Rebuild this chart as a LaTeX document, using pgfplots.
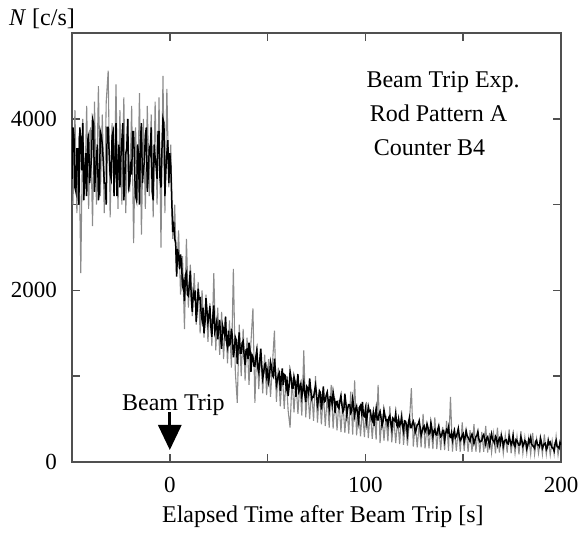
\documentclass[border=0pt]{standalone}
\usepackage{pgfplots}
\pgfplotsset{compat=1.18}
\usepackage{fontspec}
\setmainfont{Liberation Serif}
\usetikzlibrary{arrows.meta}
\definecolor{axgray}{HTML}{505050}
\begin{document}
\begin{tikzpicture}[font=\fontsize{12bp}{14bp}\selectfont]
\begin{axis}[
  scale only axis, width=244.5bp, height=214.5bp,
  xmin=-50, xmax=200, ymin=0, ymax=5000,
  axis line style={axgray, line width=0.9bp},
  tick style={axgray, line width=0.8bp},
  tick align=inside, major tick length=4bp,
  xtick={0,50,100,150,200}, xticklabels={0,,100,,200},
  ytick={0,1000,2000,3000,4000}, yticklabels={0,,2000,,4000},
  scaled ticks=false,
  /pgf/number format/assume math mode=true,
  ticklabel style={font=\fontsize{11.5bp}{13bp}\selectfont},
  yticklabel style={xshift=-4bp},
  xticklabel style={yshift=-4bp},
  xlabel={Elapsed Time after Beam Trip [s]},
  xlabel style={at={(axis description cs:0.513,0)}, anchor=base, yshift=-30bp},
  clip=true,
]
\addplot[black!45, line width=0.55bp] coordinates {
(-49.5,3000)(-48.5,4100)(-47.5,2900)(-46.5,3800)(-45.5,2200)(-44.5,4000)(-43.5,3100)(-42.5,4150)(-41.5,2950)(-40.5,3900)
(-39.5,2750)(-38.5,4200)(-37.5,3000)(-36.5,4380)(-35.5,3100)(-34.5,4050)(-33.5,2900)(-32.5,4200)(-31.5,4560)(-30.5,2850)
(-29.5,3950)(-28.5,3100)(-27.5,4400)(-26.5,2950)(-25.5,4100)(-24.5,3000)(-23.5,4250)(-22.5,2900)(-21.5,4000)(-20.5,3150)
(-19.5,4150)(-18.5,2550)(-17.5,3900)(-16.5,3050)(-15.5,4300)(-14.5,2650)(-13.5,4000)(-12.5,2950)(-11.5,4150)(-10.5,3100)
(-9.5,4050)(-8.5,2850)(-7.5,4200)(-6.5,3000)(-5.5,4250)(-4.5,2500)(-3.5,4500)(-2.5,2900)(-1.5,4350)(-0.5,3200)
(0.5,3700)(1.5,2600)(2.5,3000)(3.5,2200)(4.5,2700)(5.5,1950)(6.5,2400)(7.5,1550)(8.5,2600)(9.5,1800)
(10.5,2300)(11.5,1700)(12.5,2200)(13.5,1600)(14.5,2100)(15.5,1500)(16.5,2000)(17.5,1450)(18.5,1950)(19.5,1400)
(20.5,1850)(21.5,1350)(22.5,2200)(23.5,1300)(24.5,1800)(25.5,1250)(26.5,1750)(27.5,1200)(28.5,1700)(29.5,1150)
(30.5,1650)(31.5,1100)(32.5,2250)(33.5,1050)(34.5,690)(35.5,1600)(36.5,1000)(37.5,1550)(38.5,950)(39.5,1450)
(40.5,900)(41.5,1400)(42.5,1790)(43.5,690)(44.5,1350)(45.5,850)(46.5,1300)(47.5,800)(48.5,1250)(49.5,780)
(50.5,1200)(51.5,760)(52.5,1150)(53.5,1530)(54.5,700)(55.5,1100)(56.5,650)(57.5,1050)(58.5,620)(59.5,1000)
(60.5,600)(61.5,400)(62.5,980)(63.5,580)(64.5,950)(65.5,560)(66.5,920)(67.5,540)(68.5,1300)(69.5,520)
(70.5,880)(71.5,500)(72.5,850)(73.5,480)(74.5,1000)(75.5,460)(76.5,820)(77.5,440)(78.5,800)(79.5,420)
(80.5,780)(81.5,400)(82.5,900)(83.5,390)(84.5,740)(85.5,370)(86.5,720)(87.5,350)(88.5,700)(89.5,340)
(90.5,680)(91.5,330)(92.5,820)(93.5,320)(94.5,950)(95.5,310)(96.5,640)(97.5,300)(98.5,620)(99.5,290)
(100.5,700)(101.5,280)(102.5,600)(103.5,270)(104.5,580)(105.5,260)(106.5,900)(107.5,220)(108.5,560)(109.5,250)
(110.5,540)(111.5,240)(112.5,650)(113.5,230)(114.5,520)(115.5,220)(116.5,500)(117.5,210)(118.5,600)(119.5,200)
(120.5,480)(121.5,190)(122.5,470)(123.5,860)(124.5,180)(125.5,460)(126.5,170)(127.5,450)(128.5,170)(129.5,560)
(130.5,160)(131.5,440)(132.5,160)(133.5,430)(134.5,150)(135.5,520)(136.5,150)(137.5,420)(138.5,140)(139.5,410)
(140.5,140)(141.5,480)(142.5,130)(143.5,760)(144.5,120)(145.5,400)(146.5,130)(147.5,390)(148.5,120)(149.5,460)
(150.5,130)(151.5,380)(152.5,120)(153.5,370)(154.5,120)(155.5,440)(156.5,120)(157.5,360)(158.5,110)(159.5,350)
(160.5,120)(161.5,420)(162.5,110)(163.5,340)(164.5,110)(165.5,330)(166.5,100)(167.5,400)(168.5,110)(169.5,320)
(170.5,100)(171.5,310)(172.5,110)(173.5,380)(174.5,100)(175.5,300)(176.5,100)(177.5,300)(178.5,90)(179.5,360)
(180.5,100)(181.5,290)(182.5,100)(183.5,280)(184.5,90)(185.5,340)(186.5,90)(187.5,270)(188.5,100)(189.5,270)
(190.5,90)(191.5,320)(192.5,90)(193.5,260)(194.5,80)(195.5,250)(196.5,90)(197.5,300)(198.5,80)(199.5,240)
};
\addplot[black, line width=0.75bp] coordinates {
(-50,3300)(-49.5,3900)(-49,3800)(-48.5,3200)(-48,3150)(-47.5,3650)(-47,3650)(-46.5,3000)(-46,3900)(-45.5,3750)(-45,3400)(-44.5,3950)(-44,3050)(-43.5,3300)(-43,3600)(-42.5,3100)(-42,3750)(-41.5,3800)(-41,3250)(-40.5,3400)
(-40,3550)(-39.5,4000)(-39,3950)(-38.5,3150)(-38,3350)(-37.5,3550)(-37,3700)(-36.5,3050)(-36,3150)(-35.5,3850)(-35,3800)(-34.5,3700)(-34,3500)(-33.5,3250)(-33,3250)(-32.5,3000)(-32,3900)(-31.5,3900)(-31,3600)(-30.5,3350)
(-30,3300)(-29.5,3800)(-29,3850)(-28.5,3100)(-28,3450)(-27.5,3950)(-27,3100)(-26.5,3450)(-26,3700)(-25.5,3200)(-25,3550)(-24.5,3750)(-24,3950)(-23.5,3050)(-23,3300)(-22.5,3600)(-22,3650)(-21.5,4000)(-21,3200)(-20.5,3250)
(-20,3500)(-19.5,3350)(-19,3850)(-18.5,3850)(-18,3400)(-17.5,3100)(-17,3050)(-16.5,3700)(-16,3600)(-15.5,3000)(-15,3750)(-14.5,3950)(-14,3250)(-13.5,3400)(-13,3500)(-12.5,3800)(-12,3900)(-11.5,3150)(-11,3350)(-10.5,3650)
(-10,3600)(-9.5,3900)(-9,3150)(-8.5,3050)(-8,3700)(-7.5,3550)(-7,3450)(-6.5,3300)(-6,3850)(-5.5,3850)(-5,3300)(-4.5,3200)(-4,3650)(-3.5,4000)(-3,3950)(-2.5,3100)(-2,3400)(-1.5,3600)(-1,3750)(-0.5,3250)
(0,3600)(0.5,3450)(1,3050)(1.5,2680)(2,2800)(2.5,2600)(3,2550)(3.5,2160)(4,2480)(4.5,2400)(5,2250)(5.5,2420)(6,2320)(6.5,2055)(7,2100)(7.5,1875)(8,2180)(8.5,2210)(9,1950)(9.5,1935)
(10,2080)(10.5,2230)(11,1900)(11.5,1750)(12,1980)(12.5,1925)(13,2000)(13.5,1635)(14,1780)(14.5,2020)(15,1900)(15.5,1910)(16,1740)(16.5,1655)(17,1800)(17.5,1500)(18,1630)(18.5,1910)(19,1770)(19.5,1620)
(20,1700)(20.5,1815)(21,1580)(21.5,1460)(22,1690)(22.5,1825)(23,1520)(23.5,1570)(24,1640)(24.5,1430)(25,1560)(25.5,1655)(26,1450)(26.5,1320)(27,1590)(27.5,1540)(28,1480)(28.5,1690)(29,1400)(29.5,1340)
(30,1530)(30.5,1365)(31,1380)(31.5,1555)(32,1460)(32.5,1220)(33,1300)(33.5,1455)(34,1420)(34.5,1140)(35,1360)(35.5,1510)(36,1270)(36.5,1270)(37,1390)(37.5,1410)(38,1240)(38.5,1130)(39,1310)(39.5,1315)
(40,1200)(40.5,1390)(41,1300)(41.5,1050)(42,1250)(42.5,1225)(43,1120)(43.5,1115)(44,1230)(44.5,1305)(45,1100)(45.5,1045)(46,1190)(46.5,1320)(47,1130)(47.5,975)(48,1040)(48.5,1140)(49,1150)(49.5,1000)
(50,1060)(50.5,935)(51,1000)(51.5,1165)(52,1110)(52.5,1010)(53,990)(53.5,1205)(54,1060)(54.5,895)(55,950)(55.5,1015)(56,1040)(56.5,830)(57,980)(57.5,1090)(58,900)(58.5,1020)(59,1010)(59.5,860)
(60,930)(60.5,770)(61,880)(61.5,1055)(62,980)(62.5,860)(63,860)(63.5,995)(64,940)(64.5,760)(65,900)(65.5,1025)(66,820)(66.5,855)(67,910)(67.5,765)(68,840)(68.5,930)(69,790)(69.5,700)
(70,880)(70.5,860)(71,800)(71.5,975)(72,850)(72.5,735)(73,760)(73.5,755)(74,830)(74.5,895)(75,790)(75.5,660)(76,720)(76.5,830)(77,810)(77.5,610)(78,740)(78.5,880)(79,700)(79.5,710)
(80,780)(80.5,815)(81,710)(81.5,620)(82,760)(82.5,755)(83,670)(83.5,815)(84,740)(84.5,570)(85,700)(85.5,705)(86,640)(86.5,625)(87,720)(87.5,775)(88,660)(88.5,585)(89,610)(89.5,795)
(90,690)(90.5,545)(91,630)(91.5,670)(92,670)(92.5,570)(93,590)(93.5,735)(94,650)(94.5,540)(95,620)(95.5,650)(96,560)(96.5,475)(97,640)(97.5,660)(98,580)(98.5,700)(99,540)(99.5,530)
(100,610)(100.5,460)(101,550)(101.5,645)(102,590)(102.5,600)(103,520)(103.5,485)(104,570)(104.5,420)(105,540)(105.5,625)(106,490)(106.5,490)(107,560)(107.5,590)(108,510)(108.5,420)(109,470)(109.5,605)
(110,540)(110.5,485)(111,490)(111.5,425)(112,520)(112.5,540)(113,450)(113.5,380)(114,510)(114.5,495)(115,480)(115.5,570)(116,430)(116.5,410)(117,500)(117.5,425)(118,450)(118.5,520)(119,420)(119.5,360)
(120,480)(120.5,475)(121,430)(121.5,330)(122,460)(122.5,515)(123,400)(123.5,400)(124,450)(124.5,475)(125,420)(125.5,345)(126,380)(126.5,435)(127,440)(127.5,480)(128,400)(128.5,310)(129,360)(129.5,400)
(130,420)(130.5,350)(131,380)(131.5,445)(132,400)(132.5,325)(133,340)(133.5,460)(134,390)(134.5,295)(135,360)(135.5,380)(136,320)(136.5,315)(137,380)(137.5,420)(138,340)(138.5,295)(139,310)(139.5,370)
(140,370)(140.5,255)(141,330)(141.5,375)(142,350)(142.5,405)(143,300)(143.5,290)(144,340)(144.5,255)(145,320)(145.5,365)(146,280)(146.5,300)(147,340)(147.5,390)(148,300)(148.5,250)(149,270)(149.5,310)
(150,330)(150.5,235)(151,290)(151.5,365)(152,310)(152.5,285)(153,260)(153.5,240)(154,300)(154.5,325)(155,280)(155.5,215)(156,250)(156.5,295)(157,310)(157.5,355)(158,270)(158.5,235)(159,240)(159.5,250)
(160,300)(160.5,320)(161,260)(161.5,205)(162,280)(162.5,295)(163,240)(163.5,190)(164,280)(164.5,330)(165,260)(165.5,245)(166,220)(166.5,300)(167,280)(167.5,200)(168,250)(168.5,275)(169,220)(169.5,310)
(170,270)(170.5,185)(171,240)(171.5,255)(172,260)(172.5,215)(173,210)(173.5,295)(174,250)(174.5,200)(175,230)(175.5,310)(176,200)(176.5,180)(177,260)(177.5,250)(178,220)(178.5,195)(179,200)(179.5,290)
(180,250)(180.5,185)(181,210)(181.5,250)(182,240)(182.5,155)(183,190)(183.5,260)(184,230)(184.5,285)(185,210)(185.5,190)(186,180)(186.5,160)(187,240)(187.5,255)(188,200)(188.5,200)(189,180)(189.5,280)
(190,230)(190.5,160)(191,190)(191.5,215)(192,220)(192.5,145)(193,170)(193.5,250)(194,210)(194.5,230)(195,190)(195.5,165)(196,160)(196.5,130)(197,220)(197.5,250)(198,180)(198.5,175)(199,160)(199.5,230)(200,200)
};
\node[anchor=base west] at (axis cs:97,4370) {Beam Trip Exp.};
\node[anchor=base west] at (axis cs:98.7,3963) {Rod Pattern A};
\node[anchor=base west] at (axis cs:100.7,3578) {Counter B4};
\node[anchor=base] at (axis cs:1.8,606) {Beam Trip};
\draw[black, line width=1.5bp, -{Triangle[length=12.5bp,width=11.5bp]}] (axis cs:0,583) -- (axis cs:0,140);
\end{axis}
\node[anchor=base] at ([xshift=-15bp,yshift=4bp]current axis.north west) {\textit{N} [c/s]};
\pgfresetboundingbox
\path (current axis.south west) ++(-36bp,-37bp) rectangle ++(291.5bp,268bp);
\end{tikzpicture}
\end{document}
